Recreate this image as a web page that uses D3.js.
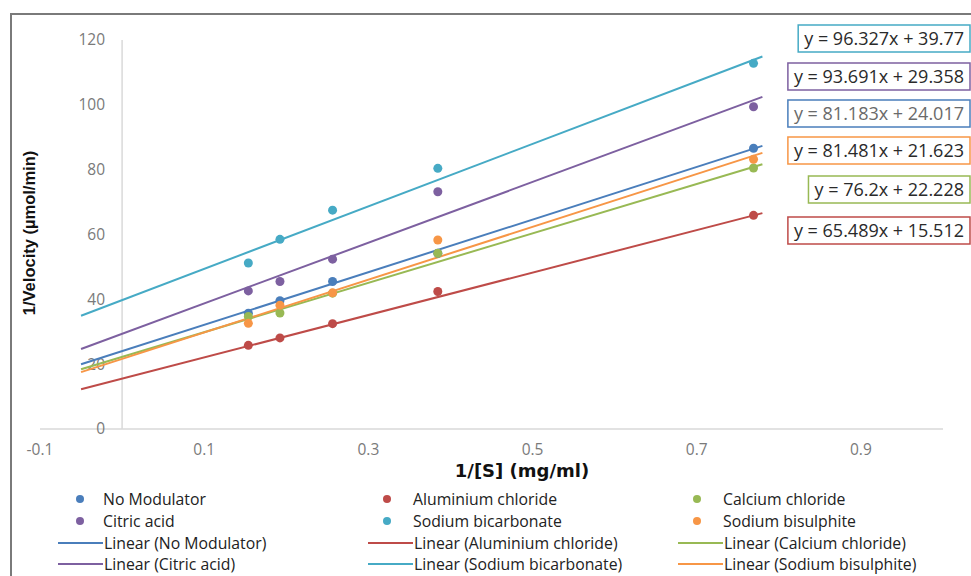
<!DOCTYPE html>
<html>
<head>
<meta charset="utf-8">
<script src="https://cdn.jsdelivr.net/npm/d3@7"></script>
<style>
  body { margin: 0; background: #fff; }
  svg { display: block; }
</style>
</head>
<body>
<div id="chart"></div>
<script>
// 1/[S] values shared by every series
const xValues = [0.1538, 0.1923, 0.2564, 0.3846, 0.7692]

const seriesNames = ["No Modulator", "Aluminium chloride", "Calcium chloride", "Citric acid", "Sodium bicarbonate", "Sodium bisulphite"]
const seriesColors = ["#4a7ebb", "#be4b48", "#98b954", "#7d60a0", "#46aac5", "#f79646"]

const noModulator = [35.7, 39.6, 45.5, 54.2, 86.6]
const aluminiumChloride = [25.8, 28.1, 32.5, 42.4, 65.9]
const calciumChloride = [34.7, 35.8, 41.9, 54.2, 80.5]
const citricAcid = [42.6, 45.5, 52.4, 73.2, 99.4]
const sodiumBicarbonate = [51.2, 58.5, 67.5, 80.4, 112.8]
const sodiumBisulphite = [32.6, 38.2, 42.0, 58.3, 83.2]

// trendline coefficients, as printed in the equation boxes
const slopes = [81.183, 65.489, 76.2, 93.691, 96.327, 81.481]
const intercepts = [24.017, 15.512, 22.228, 29.358, 39.77, 21.623]
const equationLabels = ["y = 81.183x + 24.017", "y = 65.489x + 15.512", "y = 76.2x + 22.228",
  "y = 93.691x + 29.358", "y = 96.327x + 39.77", "y = 81.481x + 21.623"]

const xTicks = [-0.1, 0.1, 0.3, 0.5, 0.7, 0.9]
const yTicks = [0, 20, 40, 60, 80, 100, 120]

const seriesValues = [noModulator, aluminiumChloride, calciumChloride, citricAcid, sodiumBicarbonate, sodiumBisulphite]
const series = seriesNames.map((name, i) => ({
  name,
  color: seriesColors[i],
  values: seriesValues[i],
  slope: slopes[i],
  intercept: intercepts[i],
  label: equationLabels[i]
}))

const width = 971
const height = 576
const font = "'Open Sans', Lato, sans-serif"

const x = d3.scaleLinear().domain([-0.1, 1.0]).range([40, 943])
const y = d3.scaleLinear().domain([0, 120]).range([429, 40])

const svg = d3.select("#chart").append("svg")
  .attr("width", width)
  .attr("height", height)
  .attr("font-family", font)

// outer chart frame (runs off the right and bottom edges)
svg.append("rect")
  .attr("x", 11).attr("y", 14)
  .attr("width", 980).attr("height", 590)
  .attr("fill", "none")
  .attr("stroke", "#7a7a7a")
  .attr("stroke-width", 2)

// axes, crossing at zero as Excel does
svg.append("line")
  .attr("x1", x(-0.1)).attr("x2", x(1.0))
  .attr("y1", y(0)).attr("y2", y(0))
  .attr("stroke", "#d9d9d9").attr("stroke-width", 1.5)

svg.append("line")
  .attr("x1", x(0)).attr("x2", x(0))
  .attr("y1", y(0)).attr("y2", y(120))
  .attr("stroke", "#d9d9d9").attr("stroke-width", 1.5)

svg.append("g")
  .selectAll("text")
  .data(yTicks)
  .join("text")
    .attr("x", x(0) - 17)
    .attr("y", d => y(d))
    .attr("dy", "0.35em")
    .attr("text-anchor", "end")
    .attr("font-size", 15.5)
    .attr("fill", "#7a7a7a")
    .text(d => d)

// Excel prints a plain hyphen for negatives
const fmtX = d => d3.format(".1f")(d).replace("\u2212", "-")
svg.append("g")
  .selectAll("text")
  .data(xTicks)
  .join("text")
    .attr("x", d => x(d))
    .attr("y", 450)
    .attr("dy", "0.35em")
    .attr("text-anchor", "middle")
    .attr("font-size", 15.5)
    .attr("fill", "#7a7a7a")
    .text(fmtX)

// axis titles
svg.append("text")
  .attr("x", 522).attr("y", 477)
  .attr("text-anchor", "middle")
  .attr("font-family", "'DejaVu Sans', sans-serif")
  .attr("font-weight", "bold")
  .attr("font-size", 18)
  .attr("fill", "#111")
  .text("1/[S] (mg/ml)")

svg.append("text")
  .attr("transform", "translate(35,233) rotate(-90)")
  .attr("text-anchor", "middle")
  .attr("font-family", "'Liberation Sans', Arial, sans-serif")
  .attr("font-weight", "bold")
  .attr("font-size", 16.5)
  .attr("fill", "#111")
  .text("1/Velocity (µmol/min)")

// trendlines
const trendX = [-0.05, 0.78]
svg.append("g")
  .attr("fill", "none")
  .attr("stroke-width", 2)
  .selectAll("line")
  .data(series)
  .join("line")
    .attr("stroke", d => d.color)
    .attr("x1", x(trendX[0]))
    .attr("y1", d => y(d.slope * trendX[0] + d.intercept))
    .attr("x2", x(trendX[1]))
    .attr("y2", d => y(d.slope * trendX[1] + d.intercept))

// data points
svg.append("g")
  .selectAll("g")
  .data(series)
  .join("g")
    .attr("fill", d => d.color)
  .selectAll("circle")
  .data(d => d.values.map((v, i) => [xValues[i], v]))
  .join("circle")
    .attr("cx", d => x(d[0]))
    .attr("cy", d => y(d[1]))
    .attr("r", 4.5)

// equation boxes, stacked at the right edge
const boxOrder = [4, 3, 0, 5, 2, 1]
const boxTops = [25, 63, 100, 137, 176, 217]
const boxRight = 970
const boxes = svg.append("g")
  .selectAll("g")
  .data(boxOrder.map((s, i) => ({ s: series[s], top: boxTops[i] })))
  .join("g")

boxes.append("text")
  .attr("y", d => d.top + 14)
  .attr("dy", "0.35em")
  .attr("font-size", 18)
  .attr("fill", d => d.s.name === "No Modulator" ? "#6a6a6a" : "#2a2a2a")
  .text(d => d.s.label)
  .each(function(d) {
    const w = this.getComputedTextLength()
    d.w = w + 12
    d3.select(this).attr("x", boxRight - d.w + 6)
  })

boxes.insert("rect", "text")
  .attr("x", d => boxRight - d.w)
  .attr("y", d => d.top)
  .attr("width", d => d.w)
  .attr("height", 27)
  .attr("fill", "#fff")
  .attr("stroke", d => d.s.color)
  .attr("stroke-width", 1.5)

// legend: 3 columns, markers then trendline entries
const legendCols = [[58, 80, 103], [368, 387, 413], [678, 697, 723]]
const legendRows = [499, 521, 543, 564]
const legendItems = []
series.forEach((s, i) => {
  legendItems.push({ s, kind: "marker", col: i % 3, row: Math.floor(i / 3) })
})
series.forEach((s, i) => {
  legendItems.push({ s, kind: "line", col: i % 3, row: 2 + Math.floor(i / 3) })
})

const legend = svg.append("g")
  .selectAll("g")
  .data(legendItems)
  .join("g")
    .attr("transform", d => `translate(0,${legendRows[d.row]})`)

legend.filter(d => d.kind === "marker")
  .append("circle")
    .attr("cx", d => legendCols[d.col][1])
    .attr("r", 4)
    .attr("fill", d => d.s.color)

legend.filter(d => d.kind === "line")
  .append("line")
    .attr("x1", d => legendCols[d.col][0])
    .attr("x2", d => legendCols[d.col][2])
    .attr("stroke", d => d.s.color)
    .attr("stroke-width", 2)

legend.append("text")
  .attr("x", d => legendCols[d.col][2] + (d.kind === "line" ? 1 : 0))
  .attr("dy", "0.35em")
  .attr("font-size", 15.8)
  .attr("fill", "#222")
  .text(d => d.kind === "line" ? `Linear (${d.s.name})` : d.s.name)
</script>
</body>
</html>
